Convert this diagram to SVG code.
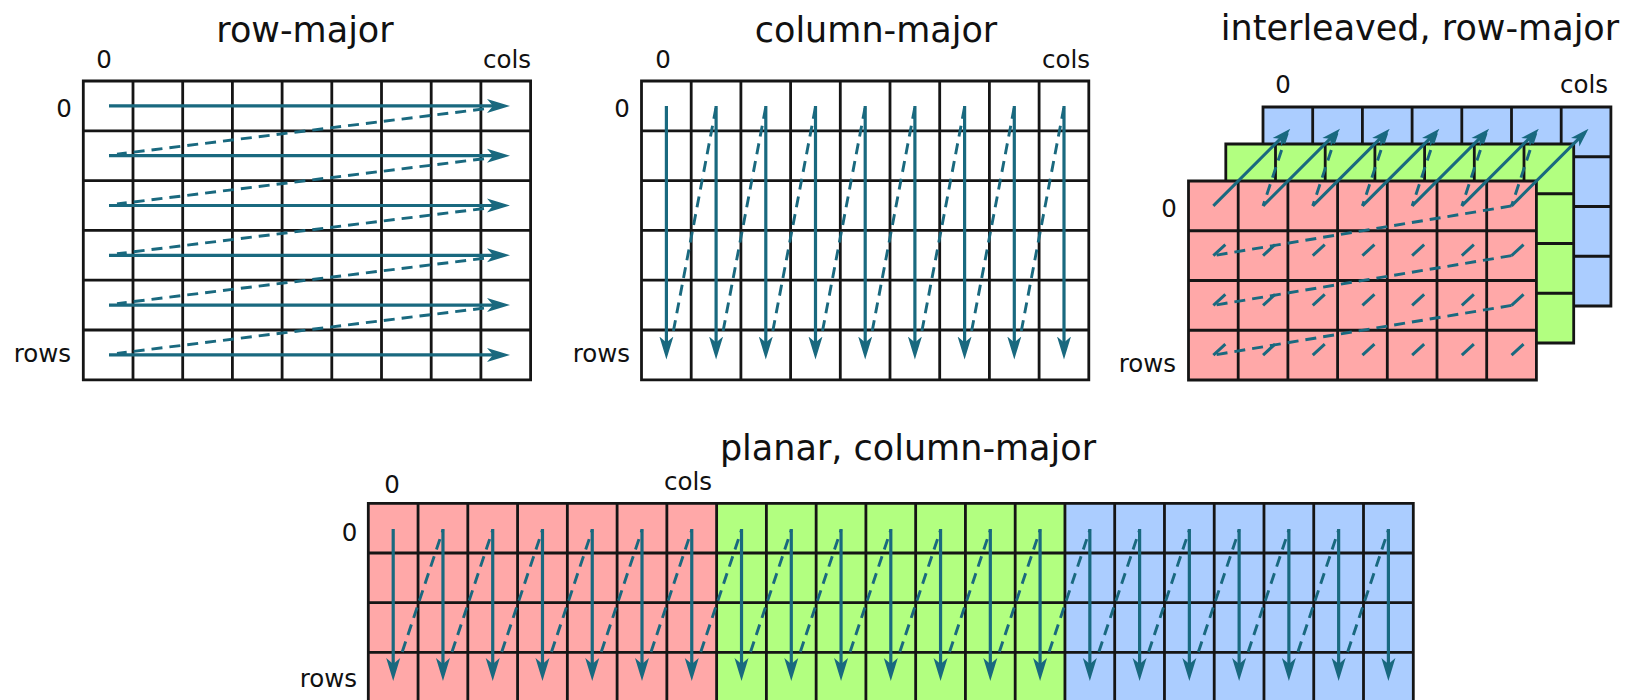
<svg xmlns="http://www.w3.org/2000/svg" width="1642" height="700" viewBox="0 0 1642 700">
<defs>
<style>
text{font-family:"DejaVu Sans",sans-serif;fill:#111}
.title{font-size:35px;text-anchor:middle}
.lbl{font-size:24.5px}
.end{text-anchor:end}
.mid{text-anchor:middle}
.grid{fill:none;stroke:#151515;stroke-width:2.8}
.red{fill:#ffa8a8}
.green{fill:#b2ff80}
.blue{fill:#abcdff}
.white{fill:#fff}
.arr{fill:none;stroke:#19697f;stroke-width:3.2;marker-end:url(#head)}
.darr{fill:none;stroke:#19697f;stroke-width:3;marker-end:url(#small)}
.dash{fill:none;stroke:#19697f;stroke-width:2.9;stroke-dasharray:11 7}
.tick{fill:none;stroke:#19697f;stroke-width:3}
</style>
<marker id="head" markerUnits="userSpaceOnUse" markerWidth="23" markerHeight="15" refX="15" refY="7.5" orient="auto">
<path d="M0,0.5 L23,7.5 L0,14.5 L6,7.5 Z" fill="#19697f"/>
</marker>
<marker id="small" markerUnits="userSpaceOnUse" markerWidth="19" markerHeight="13" refX="13" refY="6.5" orient="auto">
<path d="M0,0.5 L19,6.5 L0,12.5 L5,6.5 Z" fill="#19697f"/>
</marker>
</defs>
<rect width="1642" height="700" fill="#fff"/>

<g id="row-major">
<text class="title" x="305" y="42">row-major</text>
<text class="lbl mid" x="104" y="68">0</text>
<text class="lbl end" x="531" y="68">cols</text>
<text class="lbl mid" x="64" y="117">0</text>
<text class="lbl end" x="71" y="362">rows</text>
<rect class="white" x="83.3" y="81" width="447.3" height="298.8"/>
<path class="grid" d="M83.3,81 H530.6 V379.8 H83.3 Z M133,81 V379.8 M182.7,81 V379.8 M232.4,81 V379.8 M282.1,81 V379.8 M331.8,81 V379.8 M381.5,81 V379.8 M431.2,81 V379.8 M480.9,81 V379.8 M83.3,130.8 H530.6 M83.3,180.6 H530.6 M83.3,230.4 H530.6 M83.3,280.2 H530.6 M83.3,330 H530.6"/>
</g>

<g id="column-major">
<text class="title" x="876" y="42">column-major</text>
<text class="lbl mid" x="663" y="68">0</text>
<text class="lbl end" x="1090" y="68">cols</text>
<text class="lbl mid" x="622" y="117">0</text>
<text class="lbl end" x="630" y="362">rows</text>
<rect class="white" x="641.5" y="81" width="447.3" height="298.8"/>
<path class="grid" d="M641.5,81 H1088.8 V379.8 H641.5 Z M691.2,81 V379.8 M740.9,81 V379.8 M790.6,81 V379.8 M840.3,81 V379.8 M890,81 V379.8 M939.7,81 V379.8 M989.4,81 V379.8 M1039.1,81 V379.8 M641.5,130.8 H1088.8 M641.5,180.6 H1088.8 M641.5,230.4 H1088.8 M641.5,280.2 H1088.8 M641.5,330 H1088.8"/>
</g>

<g id="interleaved-row-major">
<text class="title" x="1420" y="40">interleaved, row-major</text>
<text class="lbl mid" x="1283" y="93">0</text>
<text class="lbl end" x="1608" y="93">cols</text>
<text class="lbl mid" x="1169" y="217">0</text>
<text class="lbl end" x="1176" y="372">rows</text>
<g id="plane-blue">
<rect class="blue" x="1263" y="107" width="347.9" height="199"/>
<path class="grid" d="M1263,107 H1610.9 V306 H1263 Z M1312.7,107 V306 M1362.4,107 V306 M1412.1,107 V306 M1461.8,107 V306 M1511.5,107 V306 M1561.2,107 V306 M1263,156.75 H1610.9 M1263,206.5 H1610.9 M1263,256.25 H1610.9"/>
</g>
<g id="plane-green">
<rect class="green" x="1225.8" y="144" width="347.9" height="199"/>
<path class="grid" d="M1225.8,144 H1573.7 V343 H1225.8 Z M1275.5,144 V343 M1325.2,144 V343 M1374.9,144 V343 M1424.6,144 V343 M1474.3,144 V343 M1524,144 V343 M1225.8,193.75 H1573.7 M1225.8,243.5 H1573.7 M1225.8,293.25 H1573.7"/>
</g>
<g id="plane-red">
<rect class="red" x="1188.5" y="181" width="347.9" height="199"/>
<path class="grid" d="M1188.5,181 H1536.4 V380 H1188.5 Z M1238.2,181 V380 M1287.9,181 V380 M1337.6,181 V380 M1387.3,181 V380 M1437,181 V380 M1486.7,181 V380 M1188.5,230.75 H1536.4 M1188.5,280.5 H1536.4 M1188.5,330.25 H1536.4"/>
</g>
</g>

<g id="planar-column-major">
<text class="title" x="908" y="460">planar, column-major</text>
<text class="lbl mid" x="392" y="493">0</text>
<text class="lbl end" x="712" y="490">cols</text>
<text class="lbl mid" x="349.5" y="541">0</text>
<text class="lbl end" x="357" y="687">rows</text>
<rect class="red" x="368.3" y="503.3" width="348.3" height="198.8"/>
<rect class="green" x="716.6" y="503.3" width="348.3" height="198.8"/>
<rect class="blue" x="1064.9" y="503.3" width="348.4" height="198.8"/>
<path class="grid" d="M368.3,503.3 H1413.3 V702.1 H368.3 Z M418.06,503.3 V702 M467.82,503.3 V702 M517.58,503.3 V702 M567.34,503.3 V702 M617.1,503.3 V702 M666.86,503.3 V702 M716.62,503.3 V702 M766.38,503.3 V702 M816.14,503.3 V702 M865.9,503.3 V702 M915.66,503.3 V702 M965.42,503.3 V702 M1015.18,503.3 V702 M1064.94,503.3 V702 M1114.7,503.3 V702 M1164.46,503.3 V702 M1214.22,503.3 V702 M1263.98,503.3 V702 M1313.74,503.3 V702 M1363.5,503.3 V702 M368.3,553 H1413.3 M368.3,602.7 H1413.3 M368.3,652.4 H1413.3"/>
</g>

<g id="connectors">
<g id="row-major-arrows">
<path class="arr" d="M109,105.9 H502"/>
<path class="arr" d="M109,155.7 H502"/>
<path class="arr" d="M109,205.5 H502"/>
<path class="arr" d="M109,255.3 H502"/>
<path class="arr" d="M109,305.1 H502"/>
<path class="arr" d="M109,354.9 H502"/>
<path class="dash" d="M484,108.9 L117,154.2"/>
<path class="dash" d="M484,158.7 L117,204"/>
<path class="dash" d="M484,208.5 L117,253.8"/>
<path class="dash" d="M484,258.3 L117,303.6"/>
<path class="dash" d="M484,308.1 L117,353.4"/>
</g>
<g id="column-major-arrows">
<path class="arr" d="M666.4,106 V351.5"/>
<path class="arr" d="M716.1,106 V351.5"/>
<path class="arr" d="M765.8,106 V351.5"/>
<path class="arr" d="M815.5,106 V351.5"/>
<path class="arr" d="M865.2,106 V351.5"/>
<path class="arr" d="M914.9,106 V351.5"/>
<path class="arr" d="M964.6,106 V351.5"/>
<path class="arr" d="M1014.3,106 V351.5"/>
<path class="arr" d="M1064,106 V351.5"/>
<path class="dash" d="M673.4,331 L716.1,107"/>
<path class="dash" d="M723.1,331 L765.8,107"/>
<path class="dash" d="M772.8,331 L815.5,107"/>
<path class="dash" d="M822.5,331 L865.2,107"/>
<path class="dash" d="M872.2,331 L914.9,107"/>
<path class="dash" d="M921.9,331 L964.6,107"/>
<path class="dash" d="M971.6,331 L1014.3,107"/>
<path class="dash" d="M1021.3,331 L1064,107"/>
</g>
<g id="interleaved-arrows">
<path class="darr" d="M1213.35,205.9 L1286.1,133.1"/>
<path class="darr" d="M1263.05,205.9 L1335.8,133.1"/>
<path class="darr" d="M1312.75,205.9 L1385.5,133.1"/>
<path class="darr" d="M1362.45,205.9 L1435.2,133.1"/>
<path class="darr" d="M1412.15,205.9 L1484.9,133.1"/>
<path class="darr" d="M1461.85,205.9 L1534.6,133.1"/>
<path class="darr" d="M1511.55,205.9 L1584.3,133.1"/>
<path class="dash" d="M1287.3,133 L1263.05,205.9"/>
<path class="dash" d="M1337,133 L1312.75,205.9"/>
<path class="dash" d="M1386.7,133 L1362.45,205.9"/>
<path class="dash" d="M1436.4,133 L1412.15,205.9"/>
<path class="dash" d="M1486.1,133 L1461.85,205.9"/>
<path class="dash" d="M1535.8,133 L1511.55,205.9"/>
<path class="dash" d="M1511.55,205.9 L1213.35,255.6"/>
<path class="dash" d="M1511.55,255.6 L1213.35,305.4"/>
<path class="dash" d="M1511.55,305.4 L1213.35,355.1"/>
<path class="tick" d="M1213.35,255.6 l12,-11 M1263.05,255.6 l12,-11 M1312.75,255.6 l12,-11 M1362.45,255.6 l12,-11 M1412.15,255.6 l12,-11 M1461.85,255.6 l12,-11 M1511.55,255.6 l12,-11"/>
<path class="tick" d="M1213.35,305.4 l12,-11 M1263.05,305.4 l12,-11 M1312.75,305.4 l12,-11 M1362.45,305.4 l12,-11 M1412.15,305.4 l12,-11 M1461.85,305.4 l12,-11 M1511.55,305.4 l12,-11"/>
<path class="tick" d="M1213.35,355.1 l12,-11 M1263.05,355.1 l12,-11 M1312.75,355.1 l12,-11 M1362.45,355.1 l12,-11 M1412.15,355.1 l12,-11 M1461.85,355.1 l12,-11 M1511.55,355.1 l12,-11"/>
</g>
<g id="planar-arrows">
<path class="arr" d="M393.2,529 V673"/>
<path class="arr" d="M442.96,529 V673"/>
<path class="arr" d="M492.72,529 V673"/>
<path class="arr" d="M542.48,529 V673"/>
<path class="arr" d="M592.24,529 V673"/>
<path class="arr" d="M642,529 V673"/>
<path class="arr" d="M691.76,529 V673"/>
<path class="arr" d="M741.52,529 V673"/>
<path class="arr" d="M791.28,529 V673"/>
<path class="arr" d="M841.04,529 V673"/>
<path class="arr" d="M890.8,529 V673"/>
<path class="arr" d="M940.56,529 V673"/>
<path class="arr" d="M990.32,529 V673"/>
<path class="arr" d="M1040.08,529 V673"/>
<path class="arr" d="M1089.84,529 V673"/>
<path class="arr" d="M1139.6,529 V673"/>
<path class="arr" d="M1189.36,529 V673"/>
<path class="arr" d="M1239.12,529 V673"/>
<path class="arr" d="M1288.88,529 V673"/>
<path class="arr" d="M1338.64,529 V673"/>
<path class="arr" d="M1388.4,529 V673"/>
<path class="dash" d="M402.2,652 L442.96,530"/>
<path class="dash" d="M451.96,652 L492.72,530"/>
<path class="dash" d="M501.72,652 L542.48,530"/>
<path class="dash" d="M551.48,652 L592.24,530"/>
<path class="dash" d="M601.24,652 L642,530"/>
<path class="dash" d="M651,652 L691.76,530"/>
<path class="dash" d="M700.76,652 L741.52,530"/>
<path class="dash" d="M750.52,652 L791.28,530"/>
<path class="dash" d="M800.28,652 L841.04,530"/>
<path class="dash" d="M850.04,652 L890.8,530"/>
<path class="dash" d="M899.8,652 L940.56,530"/>
<path class="dash" d="M949.56,652 L990.32,530"/>
<path class="dash" d="M999.32,652 L1040.08,530"/>
<path class="dash" d="M1049.08,652 L1089.84,530"/>
<path class="dash" d="M1098.84,652 L1139.6,530"/>
<path class="dash" d="M1148.6,652 L1189.36,530"/>
<path class="dash" d="M1198.36,652 L1239.12,530"/>
<path class="dash" d="M1248.12,652 L1288.88,530"/>
<path class="dash" d="M1297.88,652 L1338.64,530"/>
<path class="dash" d="M1347.64,652 L1388.4,530"/>
</g>
</g>
</svg>
